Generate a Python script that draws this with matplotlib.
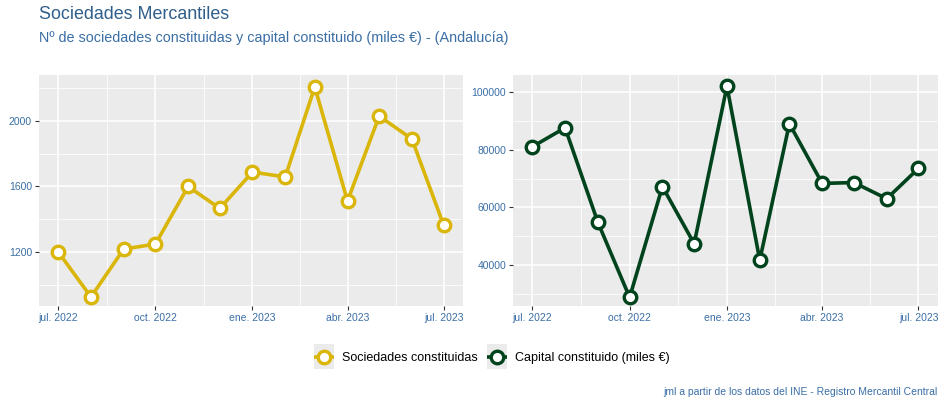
import matplotlib
matplotlib.use('Agg')
import matplotlib.pyplot as plt
import matplotlib.dates as mdates
from matplotlib.lines import Line2D
from matplotlib.patches import Rectangle
from matplotlib.legend_handler import HandlerLine2D
import datetime as dt

plt.rcParams['font.family'] = ['Liberation Sans', 'DejaVu Sans']

# --- Data ---
months = [dt.date(2022, m, 1) for m in range(7, 13)] + [dt.date(2023, m, 1) for m in range(1, 8)]
sociedades = [1200, 925, 1218, 1248, 1600, 1466, 1688, 1658, 2208, 1511, 2030, 1890, 1365]
capital = [81000, 87600, 54800, 28800, 67200, 47400, 102000, 41700, 89000, 68300, 68600, 63000, 73500]

tick_dates = [dt.date(2022, 7, 1), dt.date(2022, 10, 1), dt.date(2023, 1, 1),
              dt.date(2023, 4, 1), dt.date(2023, 7, 1)]
tick_labels = ['jul. 2022', 'oct. 2022', 'ene. 2023', 'abr. 2023', 'jul. 2023']

gold = '#DAB60A'
green = '#00431C'
txt_blue = '#3A6EA5'
title_blue = '#2F5F8A'

fig = plt.figure(figsize=(9.44, 4.04), dpi=100)

ax1 = fig.add_axes([0.0413, 0.2426, 0.449, 0.5718])
ax2 = fig.add_axes([0.5434, 0.2426, 0.450, 0.5718])


def style_axis(ax, yticks, yminor, ylim):
    ax.set_facecolor('#EBEBEB')
    for s in ax.spines.values():
        s.set_visible(False)
    x0 = mdates.date2num(dt.date(2022, 7, 1))
    x1 = mdates.date2num(dt.date(2023, 7, 1))
    pad = (x1 - x0) * 0.05
    ax.set_xlim(x0 - pad, x1 + pad)
    ax.set_ylim(*ylim)
    ax.set_xticks([mdates.date2num(d) for d in tick_dates])
    ax.set_xticklabels(tick_labels)
    tn = [mdates.date2num(d) for d in tick_dates]
    ax.set_xticks([(a + b) / 2 for a, b in zip(tn[:-1], tn[1:])], minor=True)
    ax.set_yticks(yticks)
    ax.set_yticks(yminor, minor=True)
    ax.grid(which='major', color='white', linewidth=1.1)
    ax.grid(which='minor', color='white', linewidth=0.55)
    ax.set_axisbelow(True)
    ax.tick_params(axis='both', which='major', length=3, width=0.8, color='#333333',
                   labelsize=7.5, labelcolor=txt_blue, pad=2)
    ax.tick_params(axis='both', which='minor', length=0)


x = [mdates.date2num(d) for d in months]

style_axis(ax1, [1200, 1600, 2000], [1000, 1400, 1800, 2200], (870, 2281))
ax1.plot(x, sociedades, color=gold, linewidth=2.6, marker='o', markersize=9,
         markerfacecolor='white', markeredgecolor=gold, markeredgewidth=2.4, zorder=3)

style_axis(ax2, [40000, 60000, 80000, 100000], [30000, 50000, 70000, 90000], (25800, 105900))
ax2.plot(x, capital, color=green, linewidth=2.6, marker='o', markersize=9,
         markerfacecolor='white', markeredgecolor=green, markeredgewidth=2.4, zorder=3)

fig.text(0.0413, 0.963, 'Sociedades Mercantiles', fontsize=12.9, color=title_blue,
         ha='left', va='center')
fig.text(0.0413, 0.905, 'Nº de sociedades constituidas y capital constituido (miles €) - (Andalucía)',
         fontsize=10.4, color=txt_blue, ha='left', va='center')


# legend key with grey box behind, like ggplot
class BoxedLine(HandlerLine2D):
    def create_artists(self, legend, orig_handle, xdescent, ydescent, width, height,
                       fontsize, trans):
        arts = super().create_artists(legend, orig_handle, xdescent, ydescent, width,
                                      height, fontsize, trans)
        h = 17.5
        box = Rectangle((-xdescent, -ydescent + height / 2 - h / 2), width, h,
                        facecolor='#EBEBEB', edgecolor='none', transform=trans)
        return [box] + arts


handles = [
    Line2D([0], [0], color=gold, linewidth=2.6, marker='o', markersize=9, solid_capstyle='butt',
           markerfacecolor='white', markeredgecolor=gold, markeredgewidth=2.4),
    Line2D([0], [0], color=green, linewidth=2.6, marker='o', markersize=9, solid_capstyle='butt',
           markerfacecolor='white', markeredgecolor=green, markeredgewidth=2.4),
]
leg = fig.legend(handles, ['Sociedades constituidas', 'Capital constituido (miles €)'],
                 loc='center', bbox_to_anchor=(0.521, 0.114), ncol=2, frameon=False,
                 fontsize=9, handlelength=1.6, handletextpad=0.6, columnspacing=0.8,
                 handler_map={Line2D: BoxedLine()})

fig.text(0.993, 0.03, 'jml a partir de los datos del INE - Registro Mercantil Central',
         fontsize=7.5, color=txt_blue, ha='right', va='center')

fig.savefig('out.png', dpi=100)
